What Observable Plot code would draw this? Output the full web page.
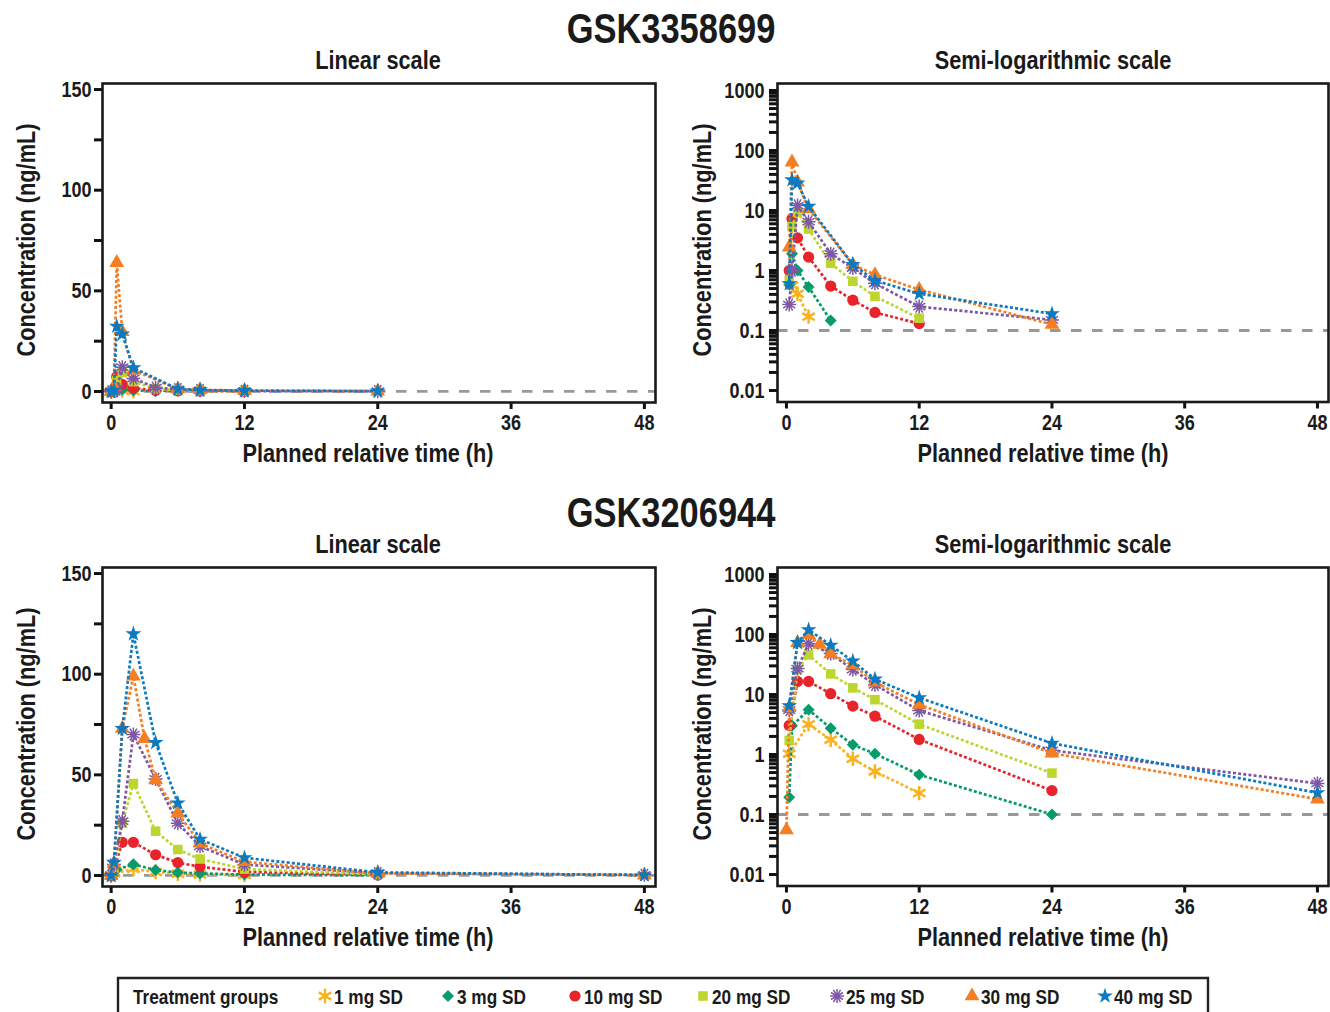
<!DOCTYPE html>
<html><head><meta charset="utf-8">
<script src="https://cdn.jsdelivr.net/npm/d3@7"></script>
<script src="https://cdn.jsdelivr.net/npm/@observablehq/plot@0.6"></script>
<style>
body{margin:0;background:#fff;}
#fig{position:relative;width:1330px;height:1012px;overflow:hidden;background:#fff;
 font-family:"Liberation Sans",Arial,sans-serif;font-weight:bold;color:#1a1a1a;}
.t{position:absolute;white-space:nowrap;line-height:1;}
.p{position:absolute;}
</style></head><body><div id="fig"></div>
<script>
// ---------- data ----------
const groups = ["1 mg SD","3 mg SD","10 mg SD","20 mg SD","25 mg SD","30 mg SD","40 mg SD"];
const colors = ["#F9B31E","#079A6C","#E6242A","#BDD62F","#7E58A5","#F57E22","#0B7AC0"];
const xTicks = [0, 12, 24, 36, 48];
const linTicks = [0, 50, 100, 150];
const linMinor = [25, 75, 125];
const logTicks = [0.01, 0.1, 1, 10, 100, 1000];
const lloq = 0.1;

// GSK3358699 (top row)
const timesA = [0, 0.25, 0.5, 1, 2, 4, 6, 8, 12, 24];
const a_1mg  = [0, null, 0.56, 0.41, 0.17, null, null, null, null, null];
const a_3mg  = [0, 0.58, 1.9, 1.0, 0.53, 0.147, null, null, null, null];
const a_10mg = [0, 1.0, 7.3, 3.5, 1.67, 0.55, 0.32, 0.2, 0.13, null];
const a_20mg = [0, 0.7, 5.4, 9.4, 4.9, 1.32, 0.66, 0.37, 0.16, null];
const a_25mg = [0, 0.27, 1.0, 12.1, 6.5, 1.9, 1.1, 0.61, 0.25, 0.15];
const a_30mg = [0, 2.45, 64, 29.7, 10.6, null, 1.25, 0.85, 0.48, 0.126];
const a_40mg = [0, 0.6, 32.4, 28.5, 11.7, null, 1.26, 0.68, 0.41, 0.19];

// GSK3206944 (bottom row)
const timesB = [0, 0.25, 0.5, 1, 2, 3, 4, 6, 8, 12, 24, 48];
const b_1mg  = [0, 1.03, null, null, 3.2, null, 1.76, 0.85, 0.52, 0.227, null, null];
const b_3mg  = [0, 0.194, 3.0, null, 5.55, null, 2.75, 1.45, 1.03, 0.46, 0.1, null];
const b_10mg = [0, 3.05, null, 16.5, 16.5, null, 10.3, 6.4, 4.35, 1.78, 0.25, null];
const b_20mg = [0, 1.71, null, 26, 45.7, null, 22, 12.9, 8.2, 3.2, 0.49, null];
const b_25mg = [0, 5.5, null, 27, 70, null, 48, 26, 14.5, 5.4, 1.17, 0.33];
const b_30mg = [0.055, 6.0, null, 73, 99, 68, 47.5, 31, 16, 6.8, 1.05, 0.18];
const b_40mg = [0, 6.5, null, 73, 120, null, 66, 36, 18, 8.8, 1.54, 0.23];

const seriesA = [a_1mg, a_3mg, a_10mg, a_20mg, a_25mg, a_30mg, a_40mg];
const seriesB = [b_1mg, b_3mg, b_10mg, b_20mg, b_25mg, b_30mg, b_40mg];

// ---------- symbols ----------
const burst = {draw(ctx, size){ const r = Math.sqrt(size/Math.PI);
  for (let i=0;i<6;i++){ const a=i*Math.PI/6; ctx.moveTo(r*Math.cos(a), r*Math.sin(a)); ctx.lineTo(-r*Math.cos(a), -r*Math.sin(a)); } }};
const symStyle = [
  {symbol:"asterisk", r:6.8, fill:"none", stroke:true, sw:2.5},
  {symbol:"diamond2", r:5.4, fill:true},
  {symbol:"circle", r:5.6, fill:true},
  {symbol:"square", r:5.4, fill:true},
  {symbol:burst, r:7.0, fill:"none", stroke:true, sw:1.5},
  {symbol:"triangle", r:5.5, fill:true},
  {symbol:"star", r:5.0, fill:true}
];
const d3sym = {asterisk:d3.symbolAsterisk, diamond2:d3.symbolDiamond2, circle:d3.symbolCircle, square:d3.symbolSquare, triangle:d3.symbolTriangle, star:d3.symbolStar};

function rows(times, vals, g){ return times.map((t,i)=>({t, c: vals[i], g})).filter(d=>d.c!=null); }

const FONT = '"Liberation Sans",Arial,sans-serif';
const SX = 0.82; // narrow face
const fig = document.getElementById("fig");

function addText(txt, x, y, size, rot){
  const d = document.createElement("div");
  d.className="t"; d.textContent = txt;
  d.style.left = x+"px"; d.style.top = y+"px"; d.style.fontSize = size+"px";
  d.style.transform = "translate(-50%,-50%)" + (rot ? ` rotate(${rot}deg)` : "") + ` scaleX(${SX})`;
  fig.appendChild(d);
}

function panel(times, series, log, left, top){
  const marks = [];
  marks.push(Plot.ruleY([lloq], {stroke:"#999", strokeWidth:2.8, strokeDasharray:"10.5,10.5"}));
  series.forEach((vals, gi)=>{
    let data = rows(times, vals, groups[gi]);
    if (log) data = data.filter(d=>d.c>0);
    const col = colors[gi], s = symStyle[gi];
    marks.push(Plot.line(data, {x:"t", y:"c", stroke:col, strokeWidth:2.7, strokeDasharray:"3,2.2", strokeLinecap:"butt"}));
    marks.push(Plot.dot(data, {x:"t", y:"c", symbol:s.symbol, r:s.r,
      fill: s.fill===true ? col : "none", stroke: s.stroke ? col : "none", strokeWidth: s.sw||1}));
  });
  const axOpts = {tickSize:8, label:null};
  marks.push(Plot.axisX({...axOpts, ticks:xTicks, tickSize:7, tickPadding:5}));
  if (log){
    const minor = [];
    [0.01,0.1,1,10,100].forEach(d=>{ for(let k=2;k<=9;k++) minor.push(+(d*k).toPrecision(3)); });
    marks.push(Plot.axisY({...axOpts, ticks:logTicks, tickPadding:5, tickFormat:d=>String(d)}));
    marks.push(Plot.axisY({...axOpts, ticks:minor, tickFormat:()=>""}));
  } else {
    marks.push(Plot.axisY({...axOpts, ticks:linTicks, tickPadding:3}));
    marks.push(Plot.axisY({...axOpts, ticks:linMinor, tickFormat:()=>""}));
  }
  marks.push(Plot.frame({stroke:"#1a1a1a", strokeWidth:2.6}));
  const p = Plot.plot({
    width:665, height:395,
    marginLeft: log ? 112 : 102, marginRight: log ? 2 : 10, marginTop:8, marginBottom: log ? 68.5 : 68,
    x:{domain: log ? [-0.81, 49.0] : [-0.78, 49.0]},
    y: log ? {type:"log", domain:[0.00643, 1308]} : {domain:[-5.46, 153]},
    style:{fontFamily:FONT, fontSize:"22px", fontWeight:"bold", color:"#1a1a1a", background:"transparent", overflow:"visible"},
    marks
  });
  p.classList.add("p");
  p.style.left = left+"px"; p.style.top = top+"px";
  fig.appendChild(p);
  // heavier tick strokes
  p.querySelectorAll('g[aria-label$="tick"]').forEach(g=>{
    g.setAttribute("stroke-width", 3); g.setAttribute("stroke", "#111");
    g.style.strokeWidth = "3px";
  });
  // narrow the tick labels around their own anchor point
  p.querySelectorAll("text").forEach(t=>{
    t.setAttribute("transform", (t.getAttribute("transform")||"") + ` scale(${SX},1)`);
  });
}

// ---------- layout ----------
const rowsY = [0, 484];
const titles = ["GSK3358699","GSK3206944"];
[[timesA, seriesA],[timesB, seriesB]].forEach(([times, series], r)=>{
  const dy = rowsY[r];
  panel(times, series, false, 0, 75+dy);
  panel(times, series, true, 665, 75+dy);
  addText(titles[r], 671, 29+dy, 42);
  addText("Linear scale", 378, 60+dy, 26.5);
  addText("Semi-logarithmic scale", 1053, 60+dy, 26.5);
  addText("Concentration (ng/mL)", 26, 240+dy, 26.5, -90);
  addText("Concentration (ng/mL)", 702, 240+dy, 26.5, -90);
  addText("Planned relative time (h)", 368, 453+dy, 26.5);
  addText("Planned relative time (h)", 1043, 453+dy, 26.5);
});

// ---------- legend ----------
const leg = d3.select(fig).append("svg").attr("class","p")
  .style("left","0px").style("top","968px").attr("width",1330).attr("height",44);
leg.append("path").attr("d","M118,46V10H1208V46").attr("fill","none").attr("stroke","#222").attr("stroke-width",2.4);
function legText(x, txt){
  leg.append("text").attr("transform",`translate(${x},29) scale(${SX},1)`).attr("dominant-baseline","central")
    .attr("font-family",FONT).attr("font-size",21).attr("font-weight","bold").attr("fill","#1a1a1a").text(txt);
}
legText(133, "Treatment groups");
const symX = [325, 448, 575, 703, 837, 972, 1105];
groups.forEach((g,i)=>{
  const s = symStyle[i], col = colors[i];
  const type = typeof s.symbol === "string" ? d3sym[s.symbol] : s.symbol;
  leg.append("path").attr("transform",`translate(${symX[i]},28)`)
    .attr("d", d3.symbol().type(type).size(Math.PI*s.r*s.r)())
    .attr("fill", s.fill===true ? col : "none").attr("stroke", s.stroke ? col : "none").attr("stroke-width", s.sw||1);
  legText(symX[i]+9, g);
});
</script></body></html>
